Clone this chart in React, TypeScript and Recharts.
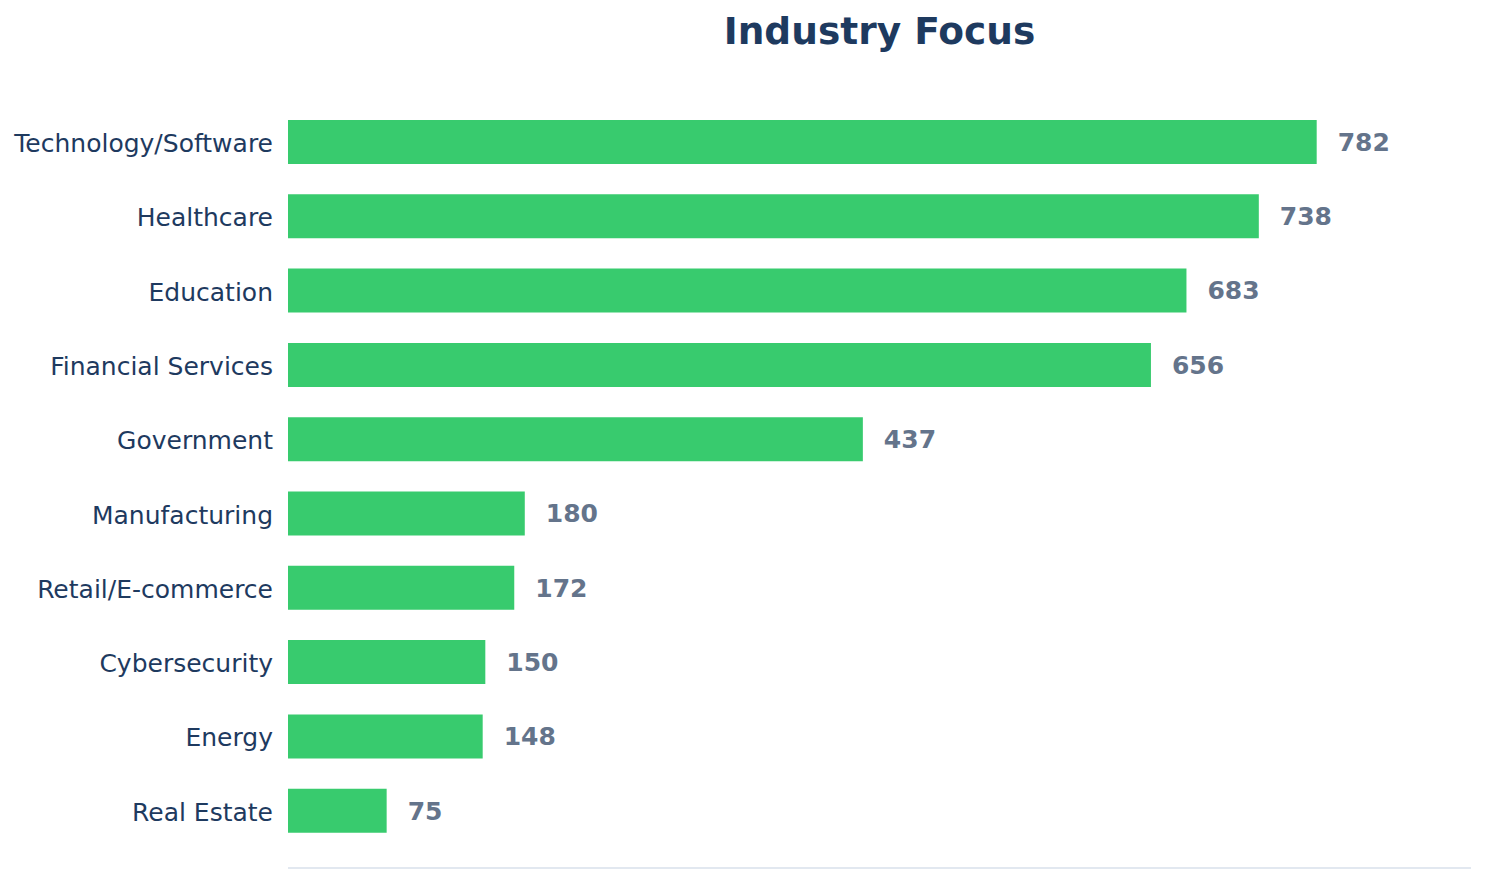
import React from 'react';
import { BarChart, Bar, XAxis, YAxis, LabelList } from 'recharts';

const categories = [
  'Technology/Software',
  'Healthcare',
  'Education',
  'Financial Services',
  'Government',
  'Manufacturing',
  'Retail/E-commerce',
  'Cybersecurity',
  'Energy',
  'Real Estate',
];
const counts = [782, 738, 683, 656, 437, 180, 172, 150, 148, 75];

const data = categories.map((name, i) => ({ name, value: counts[i] }));

const FONT = '"DejaVu Sans", sans-serif';

export default function App() {
  return (
    <div style={{ position: 'absolute', left: 0, top: 0, width: 1485, height: 884, background: '#fff', fontFamily: FONT }}>
      <div
        style={{
          position: 'absolute',
          left: 288,
          width: 1183,
          top: 8,
          textAlign: 'center',
          fontSize: 37.5,
          fontWeight: 'bold',
          color: '#1e3a5f',
          lineHeight: '46px',
        }}
      >
        Industry Focus
      </div>
      <BarChart
        width={1485}
        height={884}
        data={data}
        layout="vertical"
        margin={{ top: 105, right: 14, bottom: 15, left: 0 }}
      >
        <XAxis
          type="number"
          domain={[0, (dataMax: number) => dataMax * 1.15]}
          tick={false}
          tickLine={false}
          height={1}
          axisLine={{ stroke: '#e2e8f0', strokeWidth: 2 }}
        />
        <YAxis
          type="category"
          dataKey="name"
          width={288}
          axisLine={false}
          tickLine={false}
          tickSize={0}
          tickMargin={15}
          padding={{ top: 0, bottom: 20 }}
          tick={{ fill: '#1e3a5f', fontSize: 25, fontFamily: FONT, dy: 1 }}
        />
        <Bar dataKey="value" fill="#38cb6e" barSize={44} isAnimationActive={false}>
          <LabelList
            dataKey="value"
            position="right"
            offset={21}
            style={{ fill: '#64748b', fontSize: 25, fontWeight: 'bold', fontFamily: FONT }}
          />
        </Bar>
      </BarChart>
    </div>
  );
}
